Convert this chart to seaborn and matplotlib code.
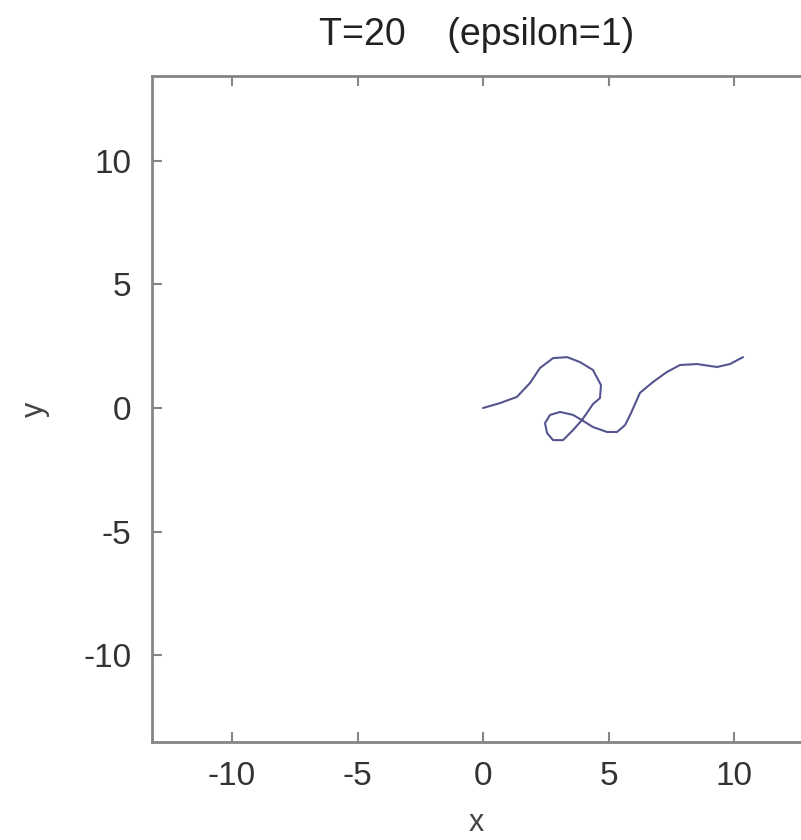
import pandas as pd
import matplotlib.pyplot as plt
import seaborn as sns

# trajectory (x, y)
traj_x = [0.00, 0.68, 1.35, 1.87, 2.27, 2.79, 3.35, 3.86, 4.38, 4.70, 4.66, 4.38,
          4.14, 3.94, 3.59, 3.19, 2.79, 2.55, 2.47, 2.67, 3.07, 3.59, 3.94, 4.38,
          4.94, 5.34, 5.66, 5.90, 6.25, 6.77, 7.33, 7.85, 8.53, 9.32, 9.84, 10.36]
traj_y = [0.00, 0.20, 0.45, 1.01, 1.62, 2.02, 2.06, 1.86, 1.54, 0.93, 0.40, 0.16,
          -0.20, -0.49, -0.89, -1.30, -1.30, -1.01, -0.61, -0.28, -0.16, -0.28, -0.49, -0.77,
          -0.97, -0.97, -0.69, -0.20, 0.61, 1.05, 1.46, 1.74, 1.78, 1.66, 1.78, 2.06]
ticks = [-10, -5, 0, 5, 10]

df = pd.DataFrame({'x': traj_x, 'y': traj_y})

sns.set_style('ticks')
plt.rcParams['font.family'] = ['Liberation Sans', 'DejaVu Sans']
plt.rcParams['axes.unicode_minus'] = False

fig = plt.figure(figsize=(8.01, 8.40), dpi=100)
ax = fig.add_axes([152 / 801, 1 - 742 / 840, 1 - 152 / 801, (742 - 76) / 840])

sns.lineplot(data=df, x='x', y='y', sort=False, estimator=None,
             color='#55558f', linewidth=1.5, ax=ax)

ax.set_xlim(-13.19, 12.67)
ax.set_ylim(-13.52, 13.44)
ax.set_xticks(ticks)
ax.set_yticks(ticks)

for side in ['left', 'bottom', 'top']:
    ax.spines[side].set_color('#858585')
    ax.spines[side].set_linewidth(2)
ax.spines['right'].set_visible(False)

ax.tick_params(direction='in', length=7, width=1.5, color='#858585',
               labelsize=24, labelcolor='#333333', top=True, right=False)
ax.tick_params(axis='x', pad=14)
ax.tick_params(axis='y', pad=15)

ax.set_title('T=20    (epsilon=1)', fontsize=27, color='#222222', pad=22)
ax.set_xlabel('x', fontsize=22, color='#444444', labelpad=11)
ax.set_ylabel('y', fontsize=22, color='#444444', labelpad=24)

fig.savefig('out.png', dpi=100)
